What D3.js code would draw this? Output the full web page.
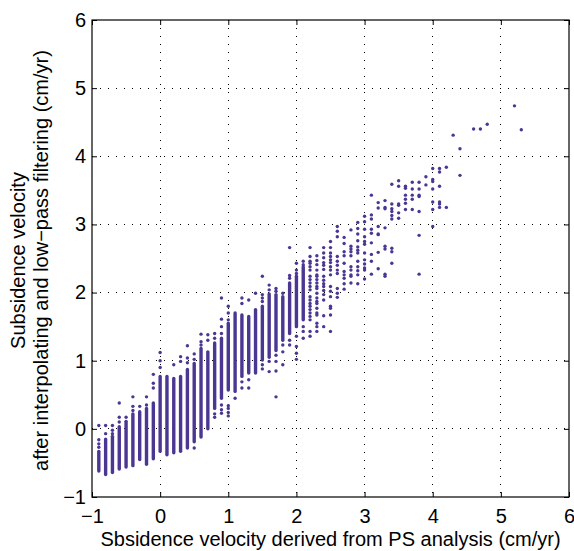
<!DOCTYPE html>
<html>
<head>
<meta charset="utf-8">
<script src="https://cdn.jsdelivr.net/npm/d3@7"></script>
<style>
  body { margin: 0; background: #fff; }
  text { font-family: "Liberation Sans", Arial, sans-serif; fill: #000; }
</style>
</head>
<body>
<svg id="chart"></svg>
<script>
// tick values shared by both axes
const xTicks = [-1, 0, 1, 2, 3, 4, 5, 6];
const yTicks = [-1, 0, 1, 2, 3, 4, 5, 6];

// columns where the points pile up into a solid stripe: x, lowest y, highest y
const bandX  = [-0.9, -0.8, -0.7, -0.6, -0.5, -0.4, -0.3, -0.2, -0.1, 0.0, 0.1, 0.2, 0.3, 0.4, 0.5, 0.6,
                0.7, 0.8, 0.9, 1.0, 1.1, 1.2, 1.3, 1.4, 1.5, 1.6, 1.7, 1.8, 1.9, 2.0, 2.1];
const bandLo = [-0.62, -0.67, -0.64, -0.59, -0.56, -0.54, -0.45, -0.52, -0.44, -0.33, -0.38, -0.35, -0.33, -0.28, -0.19, -0.12,
                0.0, 0.30, 0.45, 0.57, 0.55, 0.77, 0.82, 0.82, 1.01, 1.05, 1.15, 1.30, 1.40, 1.50, 1.60];
const bandHi = [-0.33, -0.15, -0.11, 0.03, 0.11, 0.22, 0.25, 0.30, 0.38, 0.77, 0.77, 0.74, 0.77, 0.87, 0.96, 1.18,
                1.13, 1.26, 1.33, 1.55, 1.70, 1.67, 1.65, 1.75, 1.80, 1.98, 1.97, 1.94, 2.14, 2.24, 2.38];

// single points, grouped by column
const ptX = [-0.9, -0.8, -0.7, -0.6, -0.5, -0.4, -0.3, -0.2, -0.1, 0.0, 0.2, 0.3, 0.4, 0.5, 0.6, 0.7, 0.8, 0.9,
             1.0, 1.1, 1.2, 1.3, 1.4, 1.5, 1.6, 1.7, 1.8, 1.9, 2.0, 2.1, 2.2, 2.3, 2.4, 2.5, 2.6, 2.7, 2.8, 2.9,
             3.0, 3.1, 3.2, 3.3, 3.4, 3.5, 3.6, 3.7, 3.8, 3.9, 4.0, 4.1, 4.2, 4.3, 4.4, 4.6, 4.7, 4.8, 5.2, 5.3];
const ptY = [
  [0.05, -0.16, -0.22, -0.27],
  [0.05, -0.07],
  [0.05, -0.02, -0.07],
  [0.38, 0.17, 0.10],
  [0.17],
  [0.47, 0.33, 0.27],
  [0.33],
  [0.47, 0.35],
  [0.80, 0.67, 0.60],
  [1.12, 1.00, 0.90],
  [0.94],
  [1.06, 0.99],
  [1.22, 1.04, 0.97],
  [1.10, 1.02, -0.28],
  [1.39, 1.28, 1.23],
  [1.38, 1.30],
  [1.40, 1.33, 0.22, 0.17],
  [1.92, 1.61, 1.50, 1.40, 0.35, 0.28, 0.23],
  [1.80, 1.70, 1.60, 0.34, 0.30, 0.24, 0.19],
  [0.45],
  [1.92, 1.84, 0.69, 0.60],
  [1.89, 0.72, 0.60],
  [1.99],
  [2.24, 1.97, 1.92, 1.87, 0.94, 0.88],
  [2.11, 2.04, 0.99, 0.84],
  [2.06, 2.02, 1.08, 0.99, 0.85, 0.47],
  [1.99, 1.23, 1.13, 0.94],
  [2.66, 2.25, 2.21, 1.30, 1.23],
  [2.43, 2.33, 2.28, 1.36, 1.21, 1.11, 1.02],
  [2.46, 2.41, 1.50, 1.43, 1.33],
  [2.66, 2.53, 2.46, 2.43, 2.38, 2.33, 2.24, 2.19, 2.14, 2.09, 2.04, 1.94, 1.89, 1.84, 1.80, 1.75, 1.70, 1.65, 1.60, 1.43, 1.36],
  [2.54, 2.47, 2.41, 2.33, 2.26, 2.24, 2.19, 2.14, 2.09, 2.06, 1.99, 1.92, 1.87, 1.84, 1.77, 1.70, 1.67, 1.55, 1.50, 1.43],
  [2.66, 2.58, 2.51, 2.44, 2.40, 2.34, 2.24, 2.18, 2.13, 2.09, 2.03, 1.97, 1.89, 1.66, 1.50],
  [2.75, 2.66, 2.58, 2.53, 2.48, 2.44, 2.38, 2.33, 2.26, 2.09, 2.02, 1.94, 1.80, 1.77, 1.67, 1.43],
  [2.97, 2.90, 2.82, 2.53, 2.46, 2.40, 2.33, 2.28, 2.06, 1.99, 1.93],
  [2.81, 2.72, 2.60, 2.54, 2.43, 2.31, 2.26, 2.21, 2.13, 2.05],
  [2.92, 2.68, 2.64, 2.60, 2.54, 2.38, 2.33, 2.26, 2.24, 2.14],
  [3.03, 2.94, 2.86, 2.76, 2.67, 2.62, 2.58, 2.46, 2.38, 2.32, 2.26, 2.13],
  [3.12, 3.04, 2.93, 2.82, 2.75, 2.71, 2.58, 2.48, 2.42, 2.36, 2.33, 2.20],
  [3.43, 3.14, 3.08, 2.93, 2.87, 2.73, 2.56, 2.46, 2.27],
  [3.32, 3.24, 2.97, 2.86, 2.85, 2.59, 2.35],
  [3.35, 3.25, 3.23, 2.95, 2.68, 2.64, 2.27, 2.24],
  [3.59, 3.30, 3.23, 3.19, 3.13, 3.08, 2.65, 2.60, 2.43],
  [3.64, 3.56, 3.30, 3.28, 3.17, 3.09],
  [3.56, 3.53, 3.43, 3.37, 3.31, 3.22],
  [3.62, 3.52, 3.43, 3.37, 3.22],
  [3.62, 3.52, 3.43, 3.41, 3.19, 2.84, 2.27],
  [3.70, 3.58],
  [3.82, 3.66, 3.63, 3.52, 3.33, 3.22, 2.97],
  [3.82, 3.77, 3.56, 3.33, 3.30, 3.25],
  [3.84, 3.25],
  [4.31],
  [4.11, 3.72],
  [4.40],
  [4.40],
  [4.47],
  [4.74],
  [4.39]
];

const W = 574, H = 551;
const margin = { top: 20, right: 5, bottom: 54, left: 92 };
const width = W - margin.left - margin.right;
const height = H - margin.top - margin.bottom;
const dotColor = '#4b3692';
const r = 1.7;
const fontSize = 20;

const svg = d3.select('#chart')
  .attr('width', W)
  .attr('height', H);

const g = svg.append('g')
  .attr('transform', `translate(${margin.left},${margin.top})`);

const x = d3.scaleLinear().domain([-1, 6]).range([0, width]);
const y = d3.scaleLinear().domain([-1, 6]).range([height, 0]);

// dotted grid
g.append('g')
  .selectAll('line')
  .data(xTicks.slice(1, -1))
  .enter()
  .append('line')
  .attr('x1', d => x(d)).attr('x2', d => x(d))
  .attr('y1', 0).attr('y2', height)
  .attr('stroke', '#000')
  .attr('stroke-width', 1)
  .attr('stroke-dasharray', '1,7')
  .attr('shape-rendering', 'crispEdges');

g.append('g')
  .selectAll('line')
  .data(yTicks.slice(1, -1))
  .enter()
  .append('line')
  .attr('y1', d => y(d)).attr('y2', d => y(d))
  .attr('x1', 0).attr('x2', width)
  .attr('stroke', '#000')
  .attr('stroke-width', 1)
  .attr('stroke-dasharray', '1,7')
  .attr('shape-rendering', 'crispEdges');

// solid stripes
g.append('g')
  .selectAll('rect')
  .data(bandX.map((d, i) => ({ x: d, lo: bandLo[i], hi: bandHi[i] })))
  .enter()
  .append('rect')
  .attr('x', d => x(d.x) - r)
  .attr('y', d => y(d.hi) - r)
  .attr('width', 2 * r)
  .attr('height', d => y(d.lo) - y(d.hi) + 2 * r)
  .attr('rx', r)
  .attr('fill', dotColor);

// single points
const points = [];
ptX.forEach((cx, i) => ptY[i].forEach(v => points.push({ x: cx, y: v })));

g.append('g')
  .selectAll('circle')
  .data(points)
  .enter()
  .append('circle')
  .attr('cx', d => x(d.x))
  .attr('cy', d => y(d.y))
  .attr('r', r)
  .attr('fill', dotColor);

// axes: ticks inward on all four sides, box around
const tickLen = 5;
g.append('g')
  .attr('transform', `translate(0,${height})`)
  .call(d3.axisBottom(x).tickValues(xTicks).tickSize(-tickLen).tickPadding(12).tickFormat(d3.format('d')))
  .call(a => a.select('.domain').remove());

g.append('g')
  .call(d3.axisTop(x).tickValues(xTicks).tickSize(-tickLen).tickFormat(''))
  .call(a => a.select('.domain').remove());

g.append('g')
  .call(d3.axisLeft(y).tickValues(yTicks).tickSize(-tickLen).tickPadding(6).tickFormat(d3.format('d')))
  .call(a => a.select('.domain').remove());

g.append('g')
  .attr('transform', `translate(${width},0)`)
  .call(d3.axisRight(y).tickValues(yTicks).tickSize(-tickLen).tickFormat(''))
  .call(a => a.select('.domain').remove());

g.selectAll('.tick line').attr('stroke', '#000');
g.selectAll('.tick text')
  .attr('font-size', fontSize)
  .attr('font-family', '"Liberation Sans", Arial, sans-serif');

g.append('rect')
  .attr('width', width)
  .attr('height', height)
  .attr('fill', 'none')
  .attr('stroke', '#000')
  .attr('stroke-width', 1.2);

// labels
svg.append('text')
  .attr('x', margin.left + width / 2)
  .attr('y', 546)
  .attr('text-anchor', 'middle')
  .attr('font-size', fontSize)
  .text('Sbsidence velocity derived from PS analysis (cm/yr)');

const yl = svg.append('text')
  .attr('transform', `translate(0,${margin.top + height / 2 + 2}) rotate(-90)`)
  .attr('text-anchor', 'middle')
  .attr('font-size', fontSize);
yl.append('tspan').attr('x', 0).attr('y', 25).text('Subsidence velocity');
yl.append('tspan').attr('x', 0).attr('y', 48).text('after interpolating and low\u2212pass filtering (cm/yr)');
</script>
</body>
</html>
